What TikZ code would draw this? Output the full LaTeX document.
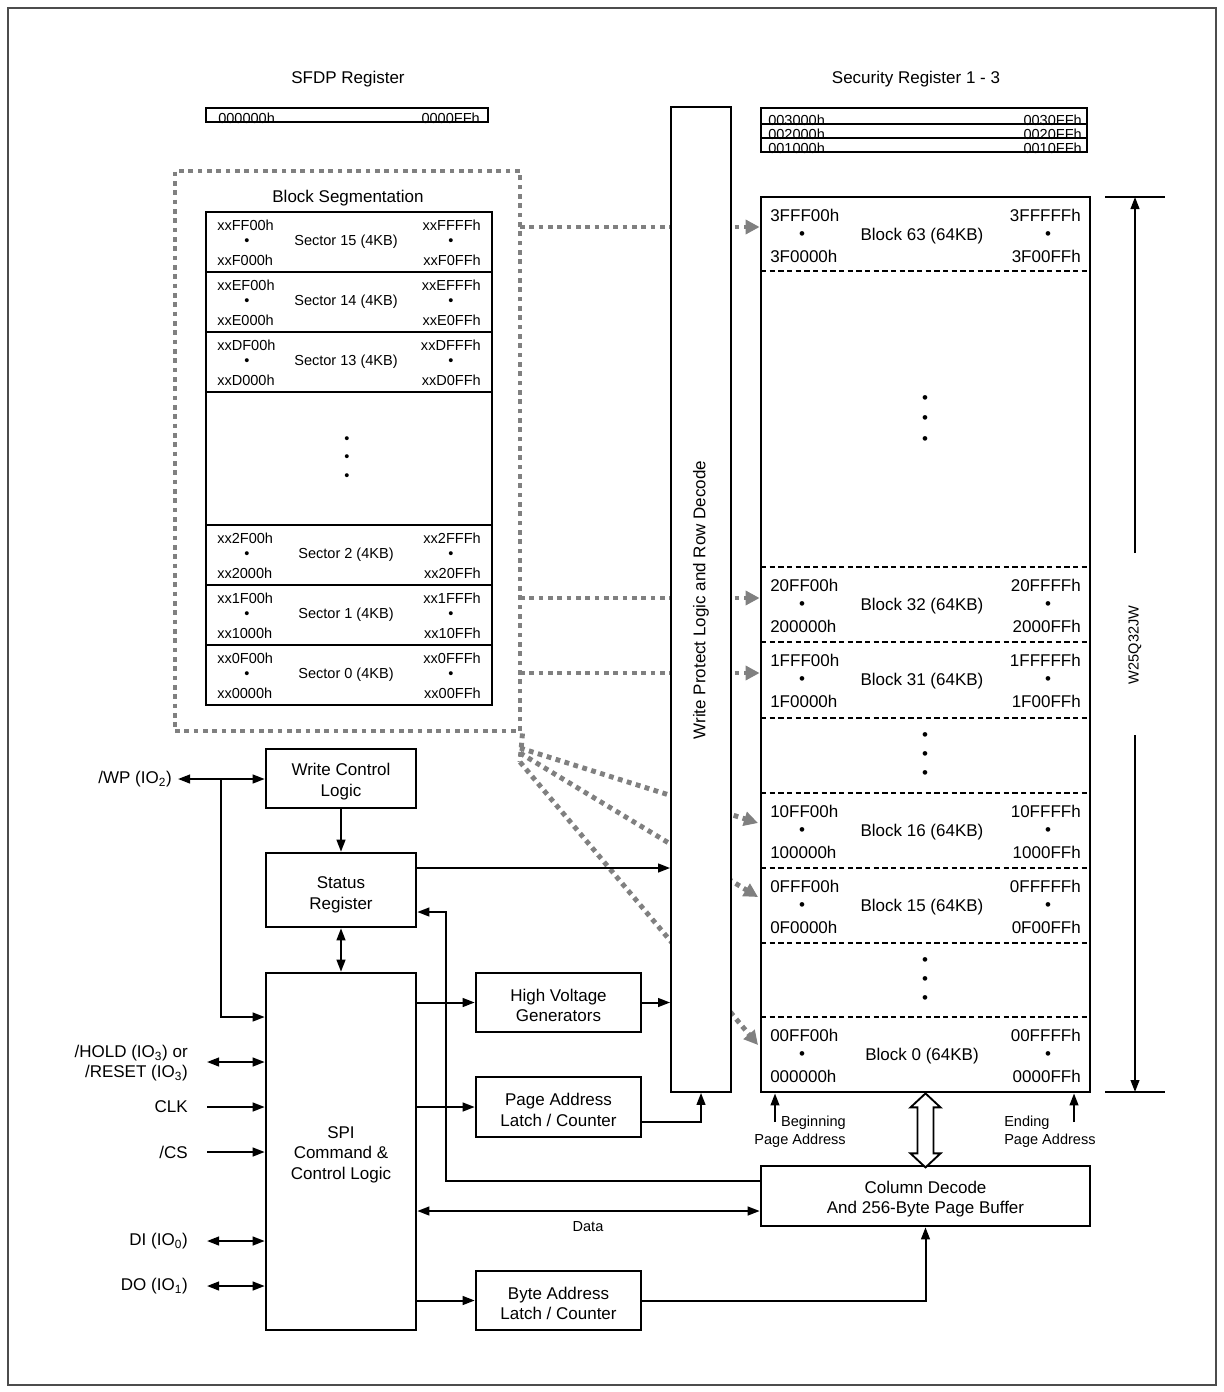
\documentclass[tikz,border=0pt]{standalone}
\usepackage{fontspec}
\setmainfont{Liberation Sans}
\usetikzlibrary{arrows.meta,fit}
\newcommand{\mainf}{\fontsize{12.75}{15.5}\selectfont}
\newcommand{\smallf}{\fontsize{10.9}{13.5}\selectfont}
\definecolor{dotgray}{RGB}{128,128,128}
\begin{document}
\begin{tikzpicture}[x=0.75pt,y=-0.75pt,
  box/.style={draw, line width=1.9pt, fill=white, inner sep=0pt},
  boxtxt/.style={align=center, font=\mainf, inner sep=0pt, yshift=-2.3pt},
  conn/.style={line width=1.5pt, -{Triangle[length=9pt,width=6.5pt]}},
  bicon/.style={line width=1.5pt, {Triangle[length=9pt,width=6.5pt]}-{Triangle[length=9pt,width=6.5pt]}},
  gdot/.style={draw=dotgray, line width=3.7pt, dash pattern=on 3.6pt off 3.4pt},
  garrow/.style={gdot, -{Triangle[length=10.5pt,width=10.5pt,fill=dotgray,color=dotgray]}},
  txt/.style={font=\mainf, inner sep=0pt},
  stxt/.style={font=\smallf, inner sep=0pt},
  sepdash/.style={line width=0.8pt, dash pattern=on 4pt off 2.5pt},
  sepsolid/.style={line width=1.1pt}]
\useasboundingbox (0,0) rectangle (1224,1392);
\draw[line width=0.8pt, draw=black!70] (8,8) rectangle (1216,1385);

% titles
\node[txt] (sfdpt) at (348,79) {SFDP Register};
\node[txt] (sect) at (916,79) {Security Register 1 - 3};

% SFDP register
\node[draw, line width=1.9pt, inner sep=0pt, fit={(206,108) (488,122)}] (sfdp) {};
\node[stxt, anchor=base west] (sf1) at (218,123) {000000h};
\node[stxt, anchor=base east] (sf2) at (480,123) {0000FFh};

% Security registers
\node[draw, line width=1.9pt, inner sep=0pt, fit={(761,108) (1087,152)}] (secr) {};
\draw[sepsolid] (761,124) -- (1087,124);
\draw[sepsolid] (761,138) -- (1087,138);
\node[stxt, anchor=base west] (sa1) at (768,125) {003000h};
\node[stxt, anchor=base east] (sb1) at (1082,125) {0030FFh};
\node[stxt, anchor=base west] (sa2) at (768,139) {002000h};
\node[stxt, anchor=base east] (sb2) at (1082,139) {0020FFh};
\node[stxt, anchor=base west] (sa3) at (768,153) {001000h};
\node[stxt, anchor=base east] (sb3) at (1082,153) {0010FFh};

% dotted block segmentation frame
\node[gdot, inner sep=0pt, fit={(175,171) (520,731)}] (segbox) {};
\node[txt] (segt) at (348,198) {Block Segmentation};
\node[draw, line width=1.9pt, inner sep=0pt, fit={(206,212) (492,705)}] (sec) {};
\foreach \yy in {272,332,392,525,585,645} {\draw[sepsolid] (206,\yy) -- (492,\yy);}
\foreach \t/\n/\a/\b/\c/\d in {212/15/xxFF00h/xxFFFFh/xxF000h/xxF0FFh,
  272/14/xxEF00h/xxEFFFh/xxE000h/xxE0FFh,
  332/13/xxDF00h/xxDFFFh/xxD000h/xxD0FFh,
  525/2/xx2F00h/xx2FFFh/xx2000h/xx20FFh,
  585/1/xx1F00h/xx1FFFh/xx1000h/xx10FFh,
  645/0/xx0F00h/xx0FFFh/xx0000h/xx00FFh} {
  \node[stxt, anchor=west] (s\n a) at (217,{\t+13}) {\a};
  \node[stxt, anchor=east] (s\n b) at (481,{\t+13}) {\b};
  \node[stxt, anchor=west] (s\n c) at (217,{\t+48}) {\c};
  \node[stxt, anchor=east] (s\n d) at (481,{\t+48}) {\d};
  \node[stxt] (s\n e) at (247,{\t+30}) {\textbullet};
  \node[stxt] (s\n f) at (451,{\t+30}) {\textbullet};
  \node[stxt] (s\n l) at (346,{\t+30}) {Sector \n\ (4KB)};
}
\foreach \yy in {440,458,477} {\node[stxt] at (347,\yy) {\textbullet};}

% memory array
\node[draw, line width=2.1pt, inner sep=0pt, fit={(761,197) (1090,1092)}] (mem) {};
\foreach \yy in {271,567,642,718,793,868,943,1017} {\draw[sepdash] (761,\yy) -- (1090,\yy);}
\foreach \t/\n/\a/\b/\c/\d in {197/63/3FFF00h/3FFFFFh/3F0000h/3F00FFh,
  567/32/20FF00h/20FFFFh/200000h/2000FFh,
  642/31/1FFF00h/1FFFFFh/1F0000h/1F00FFh,
  793/16/10FF00h/10FFFFh/100000h/1000FFh,
  868/15/0FFF00h/0FFFFFh/0F0000h/0F00FFh,
  1017/0/00FF00h/00FFFFh/000000h/0000FFh} {
  \node[txt, anchor=west] (m\n a) at (770,{\t+18}) {\a};
  \node[txt, anchor=east] (m\n b) at (1081,{\t+18}) {\b};
  \node[txt, anchor=west] (m\n c) at (770,{\t+59}) {\c};
  \node[txt, anchor=east] (m\n d) at (1081,{\t+59}) {\d};
  \node[txt] (m\n e) at (802,{\t+39}) {\textbullet};
  \node[txt] (m\n f) at (1048,{\t+39}) {\textbullet};
  \node[txt] (m\n l) at (922,{\t+39}) {Block \n\ (64KB)};
}
\foreach \yy in {400,420,441,737,756,775,962,981,1000} {\node[txt] at (925,\yy) {\textbullet};}

% gray mapping arrows (drawn before the column so it covers them)
\coordinate (g1) at (520,227);
\coordinate (g2) at (520,598);
\coordinate (g3) at (520,673);
\coordinate (g4) at (520,748);
\coordinate (g5) at (520,753);
\coordinate (g6) at (520,762);
\draw[gdot] (segbox.south east) -- (g6);
\draw[garrow] (g1) -- (mem.west |- g1);
\draw[garrow] (g2) -- (mem.west |- g2);
\draw[garrow] (g3) -- (mem.west |- g3);
\coordinate (t4) at (758,823);
\coordinate (t5) at (758,897);
\coordinate (t6) at (758,1045);
\draw[garrow] (g4) -- (t4);
\draw[garrow] (g5) -- (t5);
\draw[garrow] (g6) -- (t6);

% write protect column
\node[draw, line width=1.3pt, fill=white, inner sep=0pt, fit={(671,107) (731,1092)}] (wp) {};
\node[txt, rotate=90] (wpt) at (701,600) {Write Protect Logic and Row Decode};

% logic boxes
\node[box, fit={(266,749) (416,808)}] (wcl) {};
\node[boxtxt] (wclt) at (wcl.center) {Write Control\\Logic};
\node[box, fit={(266,853) (416,927)}] (sr) {};
\node[boxtxt, yshift=-1.5pt] (srt) at (sr.center) {Status\\Register};
\node[box, fit={(266,973) (416,1330)}] (spi) {};
\node[boxtxt] (spit) at (spi.center) {SPI\\Command \&\\Control Logic};
\node[box, fit={(476,973) (641,1032)}] (hv) {};
\node[boxtxt] (hvt) at (hv.center) {High Voltage\\Generators};
\node[box, fit={(476,1077) (641,1137)}] (pa) {};
\node[boxtxt] (pat) at (pa.center) {Page Address\\Latch / Counter};
\node[box, fit={(476,1271) (641,1330)}] (ba) {};
\node[boxtxt] (bat) at (ba.center) {Byte Address\\Latch / Counter};
\node[box, fit={(761,1166) (1090,1226)}] (cd) {};
\node[boxtxt] (cdt) at (cd.center) {Column Decode\\And 256-Byte Page Buffer};

% pins
\node[txt, anchor=east] (wpl) at (172,779) {/WP (IO\textsubscript{2})};
\node[txt, anchor=east, align=right, font=\fontsize{12.75}{15}\selectfont] (hold) at (188,1063) {/HOLD (IO\textsubscript{3}) or\\/RESET (IO\textsubscript{3})};
\node[txt, anchor=east] (clk) at (188,1107) {CLK};
\node[txt, anchor=east] (cs) at (188,1152) {/CS};
\node[txt, anchor=east] (di) at (188,1241) {DI (IO\textsubscript{0})};
\node[txt, anchor=east] (do) at (188,1286) {DO (IO\textsubscript{1})};

\coordinate (wpA) at (178,779);
\coordinate (wpB) at (221,779);
\coordinate (wpC) at (221,1017);
\draw[bicon] (wpA) -- (wcl.west |- wpA);
\draw[conn] (wpB) -- (wpC) -- (spi.west |- wpC);
\coordinate (hA) at (207,1062);
\coordinate (cA) at (207,1107);
\coordinate (csA) at (207,1152);
\coordinate (dA) at (207,1241);
\coordinate (doA) at (207,1286);
\draw[bicon] (hA) -- (spi.west |- hA);
\draw[conn] (cA) -- (spi.west |- cA);
\draw[conn] (csA) -- (spi.west |- csA);
\draw[bicon] (dA) -- (spi.west |- dA);
\draw[bicon] (doA) -- (spi.west |- doA);

% internal connectors
\draw[conn] (wcl.south) -- (sr.north);
\draw[bicon] (sr.south) -- (spi.north);
\coordinate (stY) at (500,868);
\draw[conn] (sr.east |- stY) -- (wp.west |- stY);
\coordinate (retA) at (446,1181);
\coordinate (retB) at (446,912);
\draw[conn] (cd.west |- retA) -- (retA) -- (retB) -- (sr.east |- retB);
\draw[conn] (spi.east |- hv.west) -- (hv.west);
\draw[conn] (hv.east) -- (wp.west |- hv.east);
\draw[conn] (spi.east |- pa.west) -- (pa.west);
\coordinate (paY) at (660,1122);
\draw[conn] (pa.east |- paY) -| (wp.south);
\coordinate (dataC) at (588,1211);
\draw[bicon] (spi.east |- dataC) -- (cd.west |- dataC);
\node[stxt] (datal) at (588,1227) {Data};
\draw[conn] (spi.east |- ba.west) -- (ba.west);
\draw[conn] (ba.east) -| (cd.south);

% hollow double arrow between array and column decode
\draw[line width=1.4pt, fill=white] (mem.south) -- ++(15,14) -- ++(-7,0) -- ++(0,46) -- ++(7,0) -- ++(-15,14) -- ++(-15,-14) -- ++(7,0) -- ++(0,-46) -- ++(-7,0) -- cycle;

% page address markers
\coordinate (bpa) at (775,1122);
\coordinate (epa) at (1074,1122);
\draw[conn] (bpa) -- (mem.south -| bpa);
\draw[conn] (epa) -- (mem.south -| epa);
\node[stxt, anchor=north east, align=right, font=\fontsize{10.9}{13.5}\selectfont] (bpl) at (846,1116) {Beginning\\Page Address};
\node[stxt, anchor=north west, align=left, font=\fontsize{10.9}{13.5}\selectfont] (epl) at (1004,1116) {Ending\\Page Address};

% dimension line
\draw[line width=1.2pt] (1105,197) -- (1165,197);
\draw[line width=1.2pt] (1105,1092) -- (1165,1092);
\coordinate (dT) at (1135,197);
\coordinate (dB) at (1135,1092);
\coordinate (dM1) at (1135,553);
\coordinate (dM2) at (1135,735);
\draw[conn] (dM1) -- (dT);
\draw[conn] (dM2) -- (dB);
\node[stxt, rotate=90] (chip) at (1135,645) {W25Q32JW};
\end{tikzpicture}
\end{document}
